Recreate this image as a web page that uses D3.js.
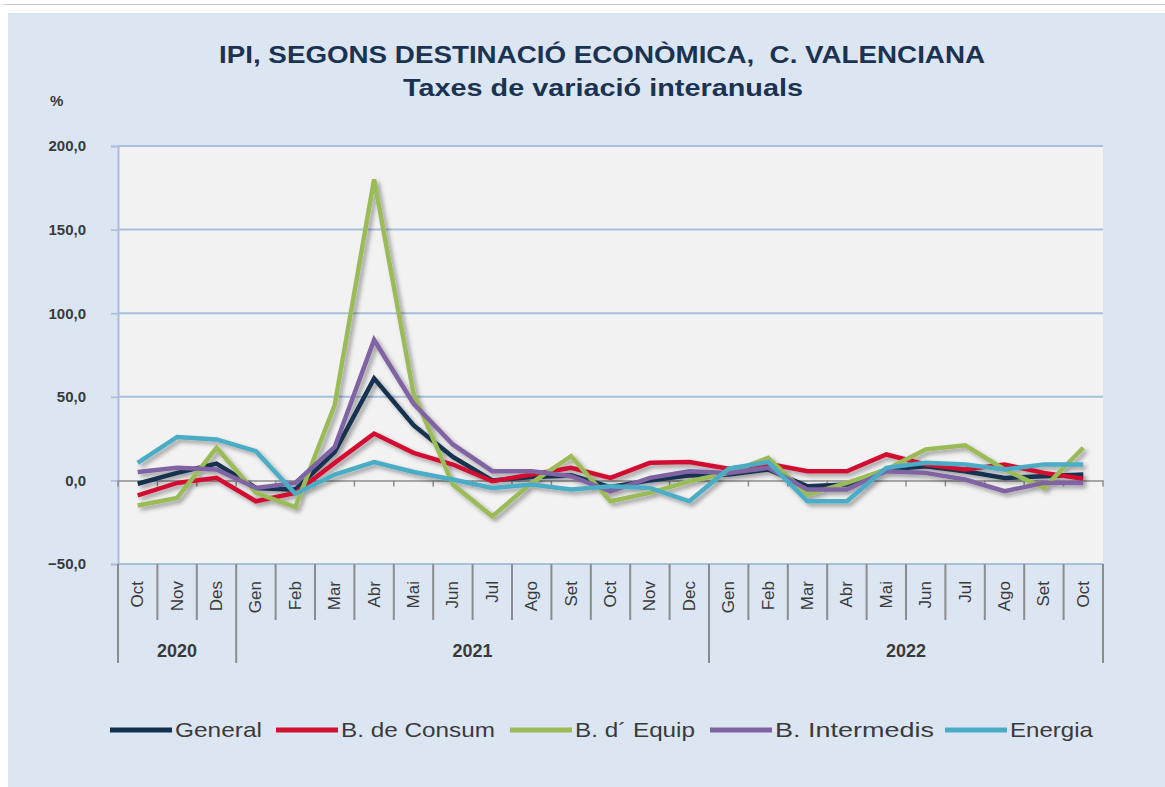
<!DOCTYPE html>
<html>
<head>
<meta charset="utf-8">
<script src="https://cdn.jsdelivr.net/npm/d3@7"></script>
<style>
  body { margin: 0; background: #fff; }
  text { font-family: "Liberation Sans Narrow", "Liberation Sans", Arial, sans-serif; }
</style>
</head>
<body>
<div id="chart"></div>
<script>
const width = 1165,
  height = 787,
  margin = ({ top: 146, right: 62, bottom: 223, left: 118 });

// months along the x axis (Oct 2020 .. Oct 2022)
const months = ["Oct", "Nov", "Des", "Gen", "Feb", "Mar", "Abr", "Mai", "Jun", "Jul", "Ago", "Set",
  "Oct", "Nov", "Dec", "Gen", "Feb", "Mar", "Abr", "Mai", "Jun", "Jul", "Ago", "Set", "Oct"];
const yearLabels = ["2020", "2021", "2022"];
const yearSpans = [3, 12, 10];

const yTicks = [-50, 0, 50, 100, 150, 200];

const general = [-2, 4.5, 10, -4.5, -5.5, 17, 61, 33, 14, 0, 2, 3, -4, 0, 3, 3.5, 6.5, -3.5, -2.5, 6.5, 8.5, 5.5, 1.5, 2.5, 3.5];
const consum = [-9, -1.5, 1.5, -12.5, -7.5, 10.5, 28, 16.5, 9.5, -0.5, 3.5, 7.5, 1.5, 10.5, 11, 7, 10, 5.5, 5.5, 15.5, 9.5, 6.5, 9.5, 4.5, 1];
const equip = [-15, -10.5, 19.5, -7.5, -16, 45, 180, 52, -2.5, -21.5, -1.5, 14.5, -12.5, -7.5, -0.5, 4.5, 13.5, -8.5, -1.5, 6.5, 18.5, 21, 6.5, -4.5, 19.5];
const intermedis = [5, 7.5, 6.5, -4.5, -1.5, 20, 84, 46, 21.5, 5.5, 5.5, 2.5, -6.5, 1.5, 5.5, 4.5, 7.5, -5.5, -5.5, 5.5, 4.5, 0.5, -6.5, -1.5, -1.5];
const energia = [10.5, 26, 24.5, 17.5, -8, 3.5, 11, 5, 0.5, -4.5, -2.5, -5.5, -3.5, -4.5, -12.5, 7, 11, -12.5, -12.5, 7.5, 10.5, 9.5, 6.5, 9.5, 9.5];

const seriesNames = ["General", "B. de Consum", "B. d\u00b4 Equip", "B. Intermedis", "Energia"];
const seriesColors = ["#13304f", "#d21030", "#9bbb59", "#8064a2", "#4bacc6"];
const seriesValues = [general, consum, equip, intermedis, energia];

const svg = d3.select("#chart")
  .append("svg")
  .attr("width", width)
  .attr("height", height);

const defs = svg.append("defs");
const shadow = defs.append("filter")
  .attr("id", "shadow")
  .attr("x", "-10%").attr("y", "-10%")
  .attr("width", "130%").attr("height", "130%");
shadow.append("feDropShadow")
  .attr("dx", 3).attr("dy", 3)
  .attr("stdDeviation", 2)
  .attr("flood-color", "#000")
  .attr("flood-opacity", 0.35);

// outer panel
svg.append("rect")
  .attr("x", 8).attr("y", 13)
  .attr("width", width - 8).attr("height", height - 13)
  .attr("fill", "#dce6f2");
svg.append("rect")
  .attr("x", 0).attr("y", 0)
  .attr("width", width).attr("height", 4)
  .attr("fill", "#fff")
  .attr("filter", "url(#shadow)");

let x = d3.scaleBand()
  .domain(d3.range(months.length))
  .range([margin.left, width - margin.right]);

let y = d3.scaleLinear()
  .domain([-50, 200])
  .range([height - margin.bottom, margin.top]);

// plot area
svg.append("rect")
  .attr("x", margin.left).attr("y", margin.top)
  .attr("width", width - margin.left - margin.right)
  .attr("height", y(-50) - margin.top)
  .attr("fill", "#f2f2f2");

// gridlines
svg.append("g")
  .selectAll("line")
  .data(yTicks.filter(d => d > 0))
  .join("line")
  .attr("x1", margin.left).attr("x2", width - margin.right)
  .attr("y1", d => y(d)).attr("y2", d => y(d))
  .attr("stroke", "#a7bedc")
  .attr("stroke-width", 2);

// Y axis
svg.append("g")
  .attr("transform", `translate(${margin.left},0)`)
  .call(d3.axisLeft(y)
    .tickValues(yTicks)
    .tickSize(7)
    .tickPadding(25)
    .tickFormat(d => d3.format(".1f")(d).replace(".", ",")))
  .call(g => g.select(".domain").attr("stroke", "#a7bedc").attr("stroke-width", 2))
  .call(g => g.selectAll(".tick line").attr("stroke", "#a7bedc").attr("stroke-width", 1.5))
  .call(g => g.selectAll(".tick text")
    .attr("fill", "#3a3a3a")
    .attr("font-size", 15)
    .attr("font-weight", 700));

svg.append("text")
  .attr("x", 50).attr("y", 106)
  .attr("fill", "#3a3a3a")
  .attr("font-size", 15)
  .attr("font-weight", 700)
  .text("%");

// zero line with category ticks
svg.append("g")
  .attr("transform", `translate(0,${y(0)})`)
  .call(d3.axisBottom(x)
    .tickValues([])
    .tickSizeOuter(0))
  .call(g => g.select(".domain").attr("stroke", "#8c8c8c").attr("stroke-width", 1.5))
  .call(g => g.selectAll(".cat-tick")
    .data(d3.range(months.length + 1))
    .join("line")
    .attr("x1", i => margin.left + i * x.step())
    .attr("x2", i => margin.left + i * x.step())
    .attr("y1", 0).attr("y2", 6)
    .attr("stroke", "#8c8c8c")
    .attr("stroke-width", 1.5));

// bottom category axis
const bottom = svg.append("g");
bottom.append("line")
  .attr("x1", margin.left).attr("x2", width - margin.right)
  .attr("y1", y(-50)).attr("y2", y(-50))
  .attr("stroke", "#a7bedc")
  .attr("stroke-width", 2);

let yearBounds = [0];
yearSpans.forEach(n => yearBounds.push(yearBounds[yearBounds.length - 1] + n));

bottom.selectAll(".sep")
  .data(d3.range(months.length + 1))
  .join("line")
  .attr("x1", i => margin.left + i * x.step())
  .attr("x2", i => margin.left + i * x.step())
  .attr("y1", y(-50))
  .attr("y2", i => yearBounds.includes(i) ? 663 : 620)
  .attr("stroke", "#8c8c8c")
  .attr("stroke-width", 2);

bottom.selectAll(".month")
  .data(months)
  .join("text")
  .attr("transform", (d, i) => `translate(${x(i) + x.bandwidth() / 2 + 1},${y(-50) + 17}) rotate(-90)`)
  .attr("text-anchor", "end")
  .attr("dominant-baseline", "middle")
  .attr("fill", "#3a3a3a")
  .attr("font-size", 17)
  .text(d => d);

bottom.selectAll(".year")
  .data(yearLabels)
  .join("text")
  .attr("x", (d, i) => margin.left + (yearBounds[i] + yearBounds[i + 1]) / 2 * x.step())
  .attr("y", 657)
  .attr("text-anchor", "middle")
  .attr("fill", "#3a3a3a")
  .attr("font-size", 18)
  .attr("font-weight", 700)
  .text(d => d);

// series lines
let line = d3.line()
  .x((d, i) => x(i) + x.bandwidth() / 2)
  .y(d => y(d));

const lines = svg.append("g").attr("filter", "url(#shadow)");
seriesValues.forEach((vals, k) => {
  lines.append("path")
    .datum(vals)
    .attr("fill", "none")
    .attr("stroke", seriesColors[k])
    .attr("stroke-width", 4.5)
    .attr("stroke-linejoin", "miter")
    .attr("d", line);
});

// titles
svg.append("text")
  .attr("x", 602).attr("y", 63)
  .attr("text-anchor", "middle")
  .attr("fill", "#1b3350")
  .attr("font-size", 24)
  .attr("font-weight", 700)
  .attr("textLength", 766)
  .attr("lengthAdjust", "spacingAndGlyphs")
  .attr("xml:space", "preserve")
  .text("IPI, SEGONS DESTINACIÓ ECONÒMICA,  C. VALENCIANA");

svg.append("text")
  .attr("x", 603).attr("y", 96)
  .attr("text-anchor", "middle")
  .attr("fill", "#1b3350")
  .attr("font-size", 23)
  .attr("font-weight", 700)
  .attr("textLength", 400)
  .attr("lengthAdjust", "spacingAndGlyphs")
  .text("Taxes de variació interanuals");

// legend
const legendX = [110, 276, 510, 710, 945];
const legendW = [87, 154, 120, 159, 83];
const legend = svg.append("g");
seriesNames.forEach((name, k) => {
  legend.append("line")
    .attr("x1", legendX[k]).attr("x2", legendX[k] + 62)
    .attr("y1", 730).attr("y2", 730)
    .attr("stroke", seriesColors[k])
    .attr("stroke-width", 5);
  legend.append("text")
    .attr("x", legendX[k] + 65).attr("y", 731)
    .attr("dominant-baseline", "middle")
    .attr("fill", "#3a3a3a")
    .attr("font-size", 21)
    .attr("textLength", legendW[k])
    .attr("lengthAdjust", "spacingAndGlyphs")
    .text(name);
});
</script>
</body>
</html>
